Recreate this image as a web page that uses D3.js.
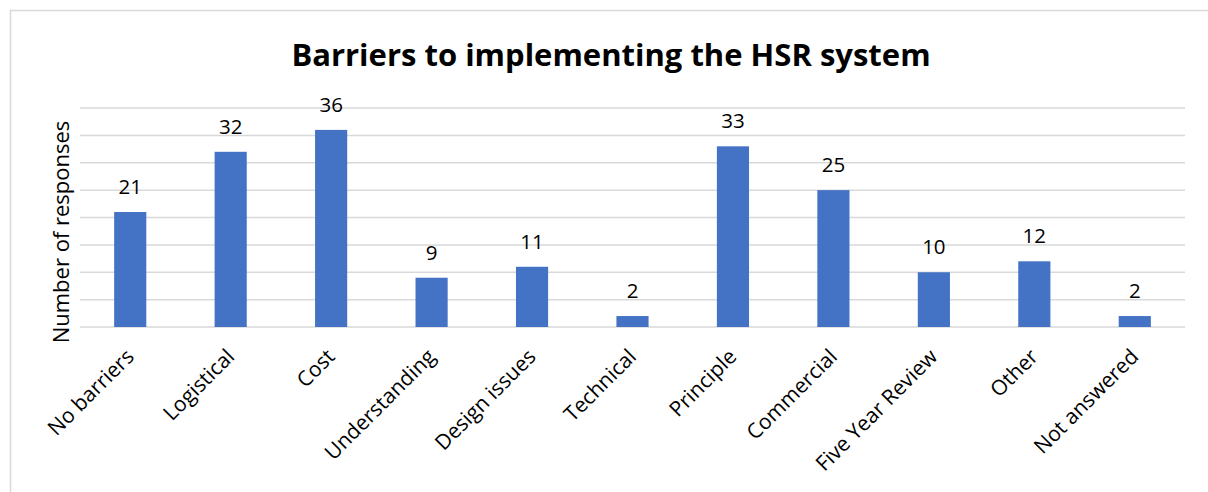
<!DOCTYPE html>
<html><head><meta charset="utf-8">
<script src="https://cdn.jsdelivr.net/npm/d3@7"></script>
<style>html,body{margin:0;padding:0;background:#fff;overflow:hidden}</style>
</head><body>
<svg id="chart" width="1208" height="492"></svg>
<script>
const categories = ["No barriers","Logistical","Cost","Understanding","Design issues","Technical","Principle","Commercial","Five Year Review","Other","Not answered"];
const values = [21,32,36,9,11,2,33,25,10,12,2];
const gridTicks = [0,5,10,15,20,25,30,35,40];
const title = "Barriers to implementing the HSR system";
const yTitle = "Number of responses";

const svg = d3.select("#chart");
const font = "'Open Sans', sans-serif";
svg.append("rect").attr("x",0).attr("y",0).attr("width",1208).attr("height",492).attr("fill","#fff");
svg.append("rect").attr("x",10.5).attr("y",10.5).attr("width",1230).attr("height",520)
  .attr("fill","none").attr("stroke","#d9d9d9").attr("stroke-width",1.5);

const x = d3.scaleBand().domain(categories).range([80,1185]).paddingInner(0.68).paddingOuter(0.34);
const y = d3.scaleLinear().domain([0,40]).range([327,108]);

svg.append("g").selectAll("line").data(gridTicks).join("line")
  .attr("x1",80).attr("x2",1185).attr("y1",d=>y(d)).attr("y2",d=>y(d))
  .attr("stroke","#d9d9d9").attr("stroke-width",1.5);

svg.append("g").selectAll("rect").data(values).join("rect")
  .attr("x",(d,i)=>x(categories[i])).attr("width",x.bandwidth())
  .attr("y",d=>y(d)).attr("height",d=>y(0)-y(d)).attr("fill","#4472c4");

svg.append("g").selectAll("text").data(values).join("text")
  .attr("x",(d,i)=>x(categories[i])+x.bandwidth()/2).attr("y",d=>y(d)-18)
  .attr("text-anchor","middle").attr("font-family",font).attr("font-size",20.5).attr("fill","#000")
  .text(d=>d);

svg.append("g").selectAll("text").data(categories).join("text")
  .attr("transform",d=>`translate(${x(d)+x.bandwidth()/2+5},358) rotate(-45)`)
  .attr("text-anchor","end").attr("font-family",font).attr("font-size",21).attr("fill","#000")
  .text(d=>d);

svg.append("text").attr("transform","translate(69,232) rotate(-90)")
  .attr("text-anchor","middle").attr("font-family",font).attr("font-size",22).attr("fill","#000")
  .text(yTitle);

svg.append("text").attr("x",611).attr("y",66).attr("text-anchor","middle")
  .attr("font-family",font).attr("font-weight","bold").attr("font-size",31).attr("fill","#000")
  .text(title);
</script>
</body></html>
